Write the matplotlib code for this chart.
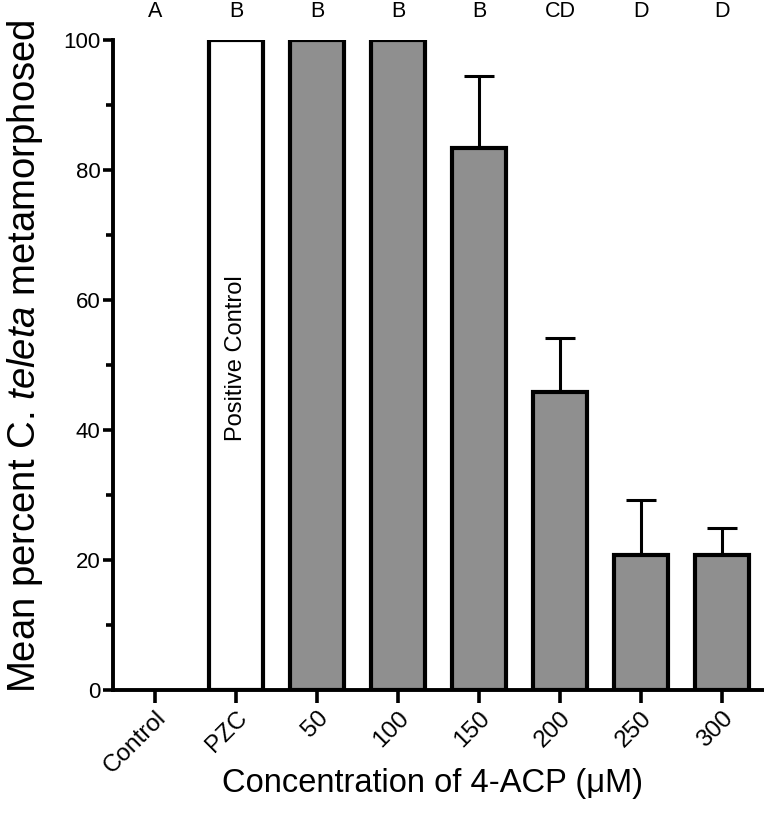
import matplotlib
matplotlib.use("Agg")
import matplotlib.pyplot as plt
import numpy as np

plt.rcParams['font.family'] = ['Liberation Sans', 'DejaVu Sans']
plt.rcParams['mathtext.fontset'] = 'custom'
plt.rcParams['mathtext.it'] = 'Liberation Sans:italic'
plt.rcParams['mathtext.rm'] = 'Liberation Sans'

categories = ["Control", "PZC", "50", "100", "150", "200", "250", "300"]
means = [0, 100, 100, 100, 83.3, 45.8, 20.8, 20.8]
errors = [0, 0, 0, 0, 11.1, 8.4, 8.4, 4.2]
letters = ["A", "B", "B", "B", "B", "CD", "D", "D"]
colors = ["white", "white", "#8f8f8f", "#8f8f8f", "#8f8f8f", "#8f8f8f", "#8f8f8f", "#8f8f8f"]

fig = plt.figure(figsize=(7.64, 8.13), dpi=100)
ax = fig.add_axes([0.148, 0.151, 0.852, 0.800])

x = np.arange(len(categories))
for i in range(len(categories)):
    if means[i] > 0:
        ax.bar(x[i], means[i], width=0.67, color=colors[i], edgecolor='black',
               linewidth=3, zorder=2)
    if errors[i] > 0:
        ax.errorbar(x[i], means[i], yerr=[[0], [errors[i]]], fmt='none',
                    ecolor='black', elinewidth=2.2, capsize=10.5, capthick=2.2, zorder=1)

ax.set_xlim(-0.52, 7.52)
ax.set_ylim(0, 100)
ax.set_yticks([0, 20, 40, 60, 80, 100])
ax.set_yticks([10, 30, 50, 70, 90], minor=True)
ax.set_xticks(x)
ax.set_xticklabels(categories, rotation=45, ha='right', rotation_mode='anchor', fontsize=17.5)
ax.tick_params(axis='y', labelsize=16, width=2.6, length=7, direction='out', pad=2)
ax.tick_params(axis='y', which='minor', width=2.6, length=5)
ax.tick_params(axis='x', width=2.6, length=9, pad=3)

for s in ['top', 'right']:
    ax.spines[s].set_visible(False)
for s in ['left', 'bottom']:
    ax.spines[s].set_linewidth(2.8)

for i, lab in enumerate(letters):
    ax.text(x[i], 104.3, lab, ha='center', va='center', fontsize=15.5, clip_on=False)

ax.text(x[1], 51, "Positive Control", rotation=90, ha='center', va='center', fontsize=17)

ax.set_ylabel(r"Mean percent C. $\mathit{teleta}$ metamorphosed", fontsize=27.5)
ax.yaxis.set_label_coords(-0.105, 0.514)
ax.set_xlabel("Concentration of 4-ACP (μM)", fontsize=23.5)
ax.xaxis.set_label_coords(0.491, -0.12)

fig.savefig("out.png", dpi=100)
